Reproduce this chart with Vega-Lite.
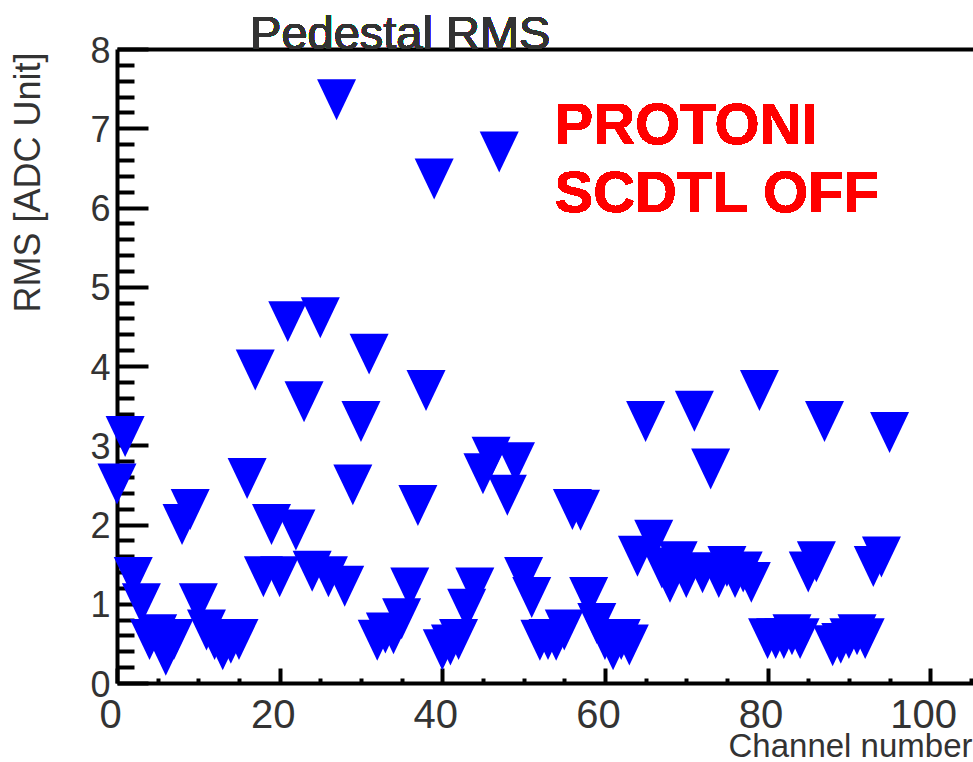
{
  "$schema": "https://vega.github.io/schema/vega-lite/v6.json",
  "width": 856,
  "height": 634,
  "autosize": {"type": "none"},
  "padding": {"left": 117, "top": 49, "right": 0, "bottom": 79},
  "background": "white",
  "config": {"view": {"stroke": null}, "font": "Liberation Sans"},
  "data": {
    "values": [
      {"ch": 0, "rms": 2.51}, {"ch": 1, "rms": 3.11}, {"ch": 2, "rms": 1.33}, {"ch": 3, "rms": 1.0},
      {"ch": 4, "rms": 0.55}, {"ch": 5, "rms": 0.61}, {"ch": 6, "rms": 0.35}, {"ch": 7, "rms": 0.55},
      {"ch": 8, "rms": 2.0}, {"ch": 9, "rms": 2.19}, {"ch": 10, "rms": 1.0}, {"ch": 11, "rms": 0.67},
      {"ch": 12, "rms": 0.55}, {"ch": 13, "rms": 0.42}, {"ch": 14, "rms": 0.5}, {"ch": 15, "rms": 0.55},
      {"ch": 16, "rms": 2.58}, {"ch": 17, "rms": 3.95}, {"ch": 18, "rms": 1.34}, {"ch": 19, "rms": 2.0},
      {"ch": 20, "rms": 1.34}, {"ch": 21, "rms": 4.56}, {"ch": 22, "rms": 1.93}, {"ch": 23, "rms": 3.55},
      {"ch": 24, "rms": 1.41}, {"ch": 25, "rms": 4.61}, {"ch": 26, "rms": 1.34}, {"ch": 27, "rms": 7.36},
      {"ch": 28, "rms": 1.22}, {"ch": 29, "rms": 2.5}, {"ch": 30, "rms": 3.3}, {"ch": 31, "rms": 4.15},
      {"ch": 32, "rms": 0.54}, {"ch": 33, "rms": 0.63}, {"ch": 34, "rms": 0.62}, {"ch": 35, "rms": 0.81},
      {"ch": 36, "rms": 1.2}, {"ch": 37, "rms": 2.24}, {"ch": 38, "rms": 3.69}, {"ch": 39, "rms": 6.36},
      {"ch": 40, "rms": 0.42}, {"ch": 41, "rms": 0.48}, {"ch": 42, "rms": 0.55}, {"ch": 43, "rms": 0.93},
      {"ch": 44, "rms": 1.2}, {"ch": 45, "rms": 2.64}, {"ch": 46, "rms": 2.85}, {"ch": 47, "rms": 6.7},
      {"ch": 48, "rms": 2.37}, {"ch": 49, "rms": 2.78}, {"ch": 50, "rms": 1.33}, {"ch": 51, "rms": 1.08},
      {"ch": 52, "rms": 0.54}, {"ch": 53, "rms": 0.55}, {"ch": 54, "rms": 0.54}, {"ch": 55, "rms": 0.67},
      {"ch": 56, "rms": 2.19}, {"ch": 57, "rms": 2.18}, {"ch": 58, "rms": 1.08}, {"ch": 59, "rms": 0.75},
      {"ch": 60, "rms": 0.55}, {"ch": 61, "rms": 0.42}, {"ch": 62, "rms": 0.55}, {"ch": 63, "rms": 0.48},
      {"ch": 64, "rms": 1.6}, {"ch": 65, "rms": 3.3}, {"ch": 66, "rms": 1.8}, {"ch": 67, "rms": 1.45},
      {"ch": 68, "rms": 1.27}, {"ch": 69, "rms": 1.53}, {"ch": 70, "rms": 1.33}, {"ch": 71, "rms": 3.43},
      {"ch": 72, "rms": 1.39}, {"ch": 73, "rms": 2.7}, {"ch": 74, "rms": 1.33}, {"ch": 75, "rms": 1.47},
      {"ch": 76, "rms": 1.33}, {"ch": 77, "rms": 1.4}, {"ch": 78, "rms": 1.27}, {"ch": 79, "rms": 3.69},
      {"ch": 80, "rms": 0.56}, {"ch": 81, "rms": 0.56}, {"ch": 82, "rms": 0.56}, {"ch": 83, "rms": 0.61},
      {"ch": 84, "rms": 0.56}, {"ch": 85, "rms": 1.4}, {"ch": 86, "rms": 1.53}, {"ch": 87, "rms": 3.3},
      {"ch": 88, "rms": 0.47}, {"ch": 89, "rms": 0.5}, {"ch": 90, "rms": 0.56}, {"ch": 91, "rms": 0.61},
      {"ch": 92, "rms": 0.56}, {"ch": 93, "rms": 1.47}, {"ch": 94, "rms": 1.59}, {"ch": 95, "rms": 3.16}
    ]
  },
  "resolve": {"axis": {"x": "independent", "y": "independent"}},
  "layer": [
    {
      "mark": {
        "type": "point",
        "shape": "M-1,-1.05L1,-1.05L0,1.05Z",
        "filled": true,
        "size": 1521,
        "color": "#0000ff",
        "opacity": 1,
        "strokeWidth": 0
      },
      "encoding": {
        "x": {
          "field": "ch",
          "type": "quantitative",
          "scale": {"domain": [0, 105.26], "nice": false, "zero": false},
          "axis": {
            "orient": "bottom",
            "values": [0, 5, 10, 15, 20, 25, 30, 35, 40, 45, 50, 55, 60, 65, 70, 75, 80, 85, 90, 95, 100, 105],
            "grid": false,
            "domainColor": "black",
            "domainWidth": 4,
            "tickColor": "black",
            "tickWidth": 4,
            "tickSize": {"condition": {"test": "datum.value % 20 === 0", "value": -15}, "value": -5},
            "labelExpr": "datum.value % 20 === 0 ? format(datum.value, 'd') : ''",
            "labelOverlap": false,
            "labelFlush": false,
            "labelFontSize": 40,
            "labelColor": "#333333",
            "labelBaseline": "alphabetic",
            "labelPadding": 59,
            "labelOffset": -7,
            "title": "Channel number",
            "titleFontSize": 33,
            "titleFontWeight": "normal",
            "titleColor": "#333333",
            "titleAlign": "right",
            "titleBaseline": "alphabetic",
            "titleAnchor": "end",
            "titleX": 855,
            "titleY": 73
          }
        },
        "y": {
          "field": "rms",
          "type": "quantitative",
          "scale": {"domain": [0, 8], "nice": false, "zero": false},
          "axis": {
            "orient": "left",
            "values": [0, 0.2, 0.4, 0.6, 0.8, 1, 1.2, 1.4, 1.6, 1.8, 2, 2.2, 2.4, 2.6, 2.8, 3, 3.2, 3.4, 3.6, 3.8, 4, 4.2, 4.4, 4.6, 4.8, 5, 5.2, 5.4, 5.6, 5.8, 6, 6.2, 6.4, 6.6, 6.8, 7, 7.2, 7.4, 7.6, 7.8, 8],
            "grid": false,
            "domainColor": "black",
            "domainWidth": 4,
            "tickColor": "black",
            "tickWidth": 4,
            "tickSize": {"condition": {"test": "abs(datum.value - round(datum.value)) < 0.01", "value": -31}, "value": -17},
            "labelExpr": "abs(datum.value - round(datum.value)) < 0.01 ? format(datum.value, 'd') : ''",
            "labelOverlap": false,
            "labelFlush": false,
            "labelFontSize": 36,
            "labelColor": "#333333",
            "labelBaseline": "alphabetic",
            "labelPadding": 38,
            "labelOffset": 13,
            "title": "RMS [ADC Unit]",
            "titleFontSize": 36,
            "titleFontWeight": "normal",
            "titleColor": "#333333",
            "titleAngle": -90,
            "titleAlign": "right",
            "titleBaseline": "alphabetic",
            "titleX": -78,
            "titleY": 3
          }
        }
      }
    },
    {
      "mark": {"type": "text", "text": "Pedestal RMS", "align": "left", "baseline": "alphabetic", "fontSize": 47, "color": "#333333"},
      "encoding": {
        "x": {
          "datum": 16.36,
          "type": "quantitative",
          "axis": {"orient": "top", "domain": true, "domainColor": "black", "domainWidth": 4, "ticks": false, "labels": false, "grid": false, "title": null}
        },
        "y": {"datum": 8, "type": "quantitative", "axis": null}
      }
    },
    {
      "mark": {"type": "text", "text": "PROTONI", "align": "left", "baseline": "alphabetic", "fontSize": 58, "fontWeight": "bold", "color": "#ff0000"},
      "encoding": {
        "x": {"datum": 53.8, "type": "quantitative", "axis": null},
        "y": {"datum": 6.8, "type": "quantitative", "axis": null}
      }
    },
    {
      "mark": {"type": "text", "text": "SCDTL OFF", "align": "left", "baseline": "alphabetic", "fontSize": 58, "fontWeight": "bold", "color": "#ff0000"},
      "encoding": {
        "x": {"datum": 53.8, "type": "quantitative", "axis": null},
        "y": {"datum": 5.94, "type": "quantitative", "axis": null}
      }
    }
  ]
}
